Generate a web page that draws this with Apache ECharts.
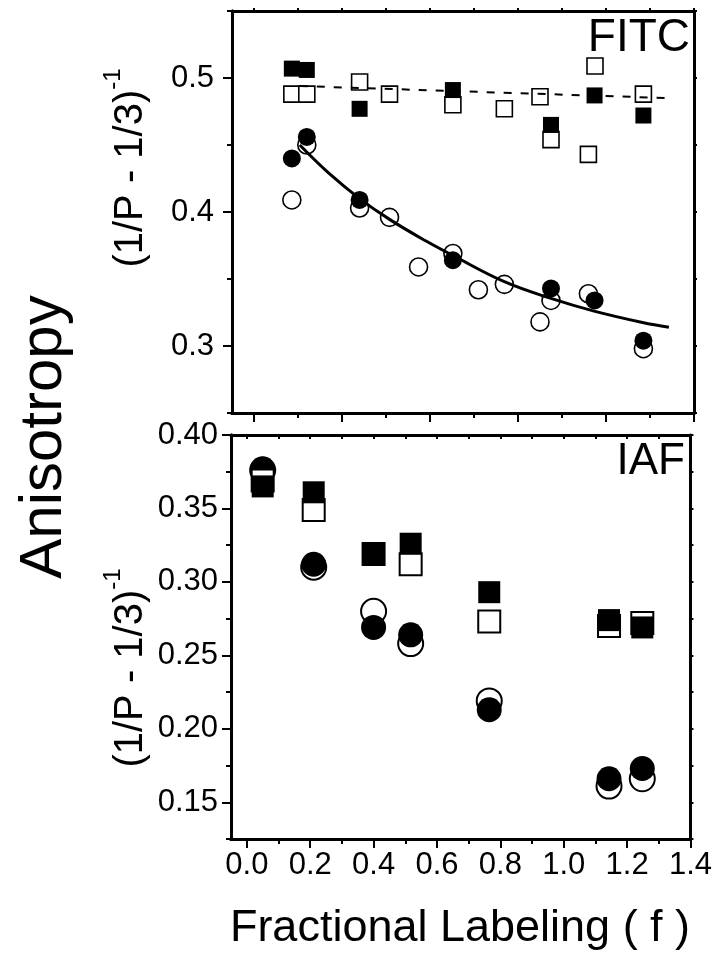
<!DOCTYPE html>
<html><head><meta charset="utf-8">
<script src="https://cdn.jsdelivr.net/npm/echarts@6/dist/echarts.min.js"></script>
<style>html,body{margin:0;padding:0;background:#fff}#c{width:715px;height:960px}</style>
</head><body><div id="c"></div>
<script>
// ---------- FITC (top panel) ----------
const fitcFilledSqX = [0.086, 0.120, 0.240, 0.452, 0.675, 0.774, 0.885];
const fitcFilledSqY = [0.507, 0.506, 0.477, 0.491, 0.465, 0.487, 0.472];
const fitcOpenSqX = [0.086, 0.120, 0.240, 0.308, 0.452, 0.569, 0.650, 0.675, 0.760, 0.775, 0.885];
const fitcOpenSqY = [0.488, 0.488, 0.497, 0.488, 0.480, 0.477, 0.486, 0.454, 0.443, 0.509, 0.488];
const fitcFilledCiX = [0.086, 0.120, 0.240, 0.452, 0.675, 0.774, 0.885];
const fitcFilledCiY = [0.440, 0.456, 0.409, 0.364, 0.343, 0.334, 0.304];
const fitcOpenCiX = [0.086, 0.120, 0.240, 0.308, 0.374, 0.452, 0.510, 0.569, 0.650, 0.675, 0.760, 0.885];
const fitcOpenCiY = [0.409, 0.450, 0.403, 0.396, 0.359, 0.369, 0.342, 0.346, 0.318, 0.334, 0.339, 0.298];
const fitcFitX = [0.104, 0.170, 0.240, 0.308, 0.390, 0.458, 0.569, 0.675, 0.773, 0.883, 0.943];
const fitcFitY = [0.450, 0.429, 0.410, 0.3945, 0.3785, 0.3665, 0.348, 0.3355, 0.326, 0.3175, 0.314];
const fitcDashX = [0.104, 0.943];
const fitcDashY = [0.494, 0.485];

// ---------- IAF (bottom panel) ----------
const iafX = [0.050, 0.211, 0.400, 0.517, 0.765, 1.143, 1.248];
const iafFilledSqY = [0.365, 0.361, 0.319, 0.326, 0.293, 0.274, 0.269];
const iafOpenSqY = [0.369, 0.349, 0.319, 0.312, 0.273, 0.270, 0.272];
const iafFilledCiY = [0.377, 0.312, 0.269, 0.264, 0.213, 0.166, 0.173];
const iafOpenCiY = [0.376, 0.310, 0.280, 0.258, 0.219, 0.161, 0.166];

// ---------- tick positions / labels ----------
const topXMajor = [0, 0.2, 0.4, 0.6, 0.8, 1.0];
const topXMinor = [0.1, 0.3, 0.5, 0.7, 0.9];
const topYMajor = [0.3, 0.4, 0.5];
const topYMinor = [0.25, 0.35, 0.45, 0.55];
const topYAll = [0.25, 0.3, 0.35, 0.4, 0.45, 0.5, 0.55];
const botXMajor = [0, 0.2, 0.4, 0.6, 0.8, 1.0, 1.2, 1.4];
const botXMinor = [0.1, 0.3, 0.5, 0.7, 0.9, 1.1, 1.3];
const botXTop = [0, 0.1, 0.2, 0.3, 0.4, 0.5, 0.6, 0.7, 0.8, 0.9, 1.0, 1.1, 1.2, 1.3];
const botYMajor = [0.15, 0.20, 0.25, 0.30, 0.35, 0.40];
const botYMinor = [0.125, 0.175, 0.225, 0.275, 0.325, 0.375];
const botYAll = [0.125, 0.15, 0.175, 0.2, 0.225, 0.25, 0.275, 0.3, 0.325, 0.35, 0.375, 0.4];

const FONT = '"Liberation Sans", Arial, sans-serif';
const zip = (xs, ys) => xs.map((x, i) => [x, ys[i]]);

function ax(o) {
  const base = {
    type: 'value',
    axisLine: {show: true, onZero: false, lineStyle: {color: '#000', width: 3}},
    splitLine: {show: false},
    axisLabel: {show: false},
    axisTick: {show: false}
  };
  return Object.assign(base, o);
}
function ticks(vals, len, inside, w) {
  return {show: true, customValues: vals, length: len, inside: !!inside, lineStyle: {color: '#000', width: w || 2}};
}

const chart = echarts.init(document.getElementById('c'), null, {renderer: 'canvas'});

const filled = {color: '#000', opacity: 1};
const open = {color: '#fff', borderColor: '#000', borderWidth: 1.6, opacity: 1};

function sc(name, data, xi, yi, symbol, size, style) {
  return {name, type: 'scatter', xAxisIndex: xi, yAxisIndex: yi, data, symbol, symbolSize: size,
    itemStyle: style, emphasis: {disabled: true}, silent: true};
}
const supLabel = {text: '{m|(1/P - 1/3)}{s|-1}', fontFamily: FONT, fill: '#000', align: 'center', verticalAlign: 'middle',
  rich: {m: {fontSize: 40, fontFamily: FONT, lineHeight: 50, verticalAlign: 'bottom'}, s: {fontSize: 24, fontFamily: FONT, verticalAlign: 'top'}}};

chart.setOption({
  animation: false,
  backgroundColor: '#fff',
  grid: [
    {left: 232, top: 11, width: 462, height: 402},
    {left: 231, top: 435, width: 461, height: 404}
  ],
  xAxis: [
    ax({gridIndex: 0, position: 'bottom', min: -0.05, max: 1.0, axisTick: ticks(topXMajor, 9)}),
    ax({gridIndex: 0, position: 'bottom', min: -0.05, max: 1.0, axisTick: ticks(topXMinor, 5)}),
    ax({gridIndex: 0, position: 'top', min: -0.05, max: 1.0, axisTick: ticks(topXMajor.concat(topXMinor), 3)}),
    ax({gridIndex: 1, position: 'bottom', min: -0.05, max: 1.4, axisTick: ticks(botXMajor, 9),
      axisLabel: {show: true, customValues: botXMajor, margin: 11, fontSize: 31, fontFamily: FONT, color: '#000',
        formatter: v => v.toFixed(1)}}),
    ax({gridIndex: 1, position: 'bottom', min: -0.05, max: 1.4, axisTick: ticks(botXMinor, 5)}),
    ax({gridIndex: 1, position: 'top', min: -0.05, max: 1.4, axisTick: ticks(botXTop, 4, true)})
  ],
  yAxis: [
    ax({gridIndex: 0, position: 'left', min: 0.25, max: 0.55, axisTick: ticks(topYMajor, 9),
      axisLabel: {show: true, customValues: topYMajor, margin: 18, fontSize: 31, fontFamily: FONT, color: '#000',
        formatter: v => v.toFixed(1)}}),
    ax({gridIndex: 0, position: 'left', min: 0.25, max: 0.55, axisTick: ticks(topYMinor, 5)}),
    ax({gridIndex: 0, position: 'right', min: 0.25, max: 0.55, axisTick: ticks(topYAll, 3)}),
    ax({gridIndex: 1, position: 'left', min: 0.125, max: 0.40, axisTick: ticks(botYMajor, 9),
      axisLabel: {show: true, customValues: botYMajor, margin: 13, fontSize: 31, fontFamily: FONT, color: '#000',
        formatter: v => v.toFixed(2)}}),
    ax({gridIndex: 1, position: 'left', min: 0.125, max: 0.40, axisTick: ticks(botYMinor, 5)}),
    ax({gridIndex: 1, position: 'right', min: 0.125, max: 0.40, axisTick: ticks(botYAll, 3)})
  ],
  series: [
    sc('FITC open circles', zip(fitcOpenCiX, fitcOpenCiY), 0, 0, 'circle', 18, open),
    sc('FITC filled circles', zip(fitcFilledCiX, fitcFilledCiY), 0, 0, 'circle', 18, filled),
    sc('FITC open squares', zip(fitcOpenSqX, fitcOpenSqY), 0, 0, 'rect', 16, open),
    sc('FITC filled squares', zip(fitcFilledSqX, fitcFilledSqY), 0, 0, 'rect', 16, filled),
    {name: 'FITC fit', type: 'line', xAxisIndex: 0, yAxisIndex: 0, data: zip(fitcFitX, fitcFitY),
      showSymbol: false, smooth: 0.4, lineStyle: {color: '#000', width: 3}, silent: true},
    {name: 'FITC linear', type: 'line', xAxisIndex: 0, yAxisIndex: 0, data: zip(fitcDashX, fitcDashY),
      showSymbol: false, lineStyle: {color: '#000', width: 2, type: [8, 9]}, silent: true},
    sc('IAF open circles', zip(iafX, iafOpenCiY), 3, 3, 'circle', 25, Object.assign({}, open, {borderWidth: 2})),
    sc('IAF filled circles', zip(iafX, iafFilledCiY), 3, 3, 'circle', 25, filled),
    sc('IAF open squares', zip(iafX, iafOpenSqY), 3, 3, 'rect', 22, Object.assign({}, open, {borderWidth: 2})),
    sc('IAF filled squares', zip(iafX, iafFilledSqY), 3, 3, 'rect', 22, filled)
  ],
  graphic: [
    {type: 'text', x: 690, y: 38, style: {text: 'FITC', fontSize: 46, fontFamily: FONT, fill: '#000', align: 'right', verticalAlign: 'middle'}},
    {type: 'text', x: 685, y: 462, style: {text: 'IAF', fontSize: 44, fontFamily: FONT, fill: '#000', align: 'right', verticalAlign: 'middle'}},
    {type: 'text', x: 44, y: 437, rotation: Math.PI / 2, style: {text: 'Anisotropy', fontSize: 60, fontFamily: FONT, fill: '#000', align: 'center', verticalAlign: 'middle'}},
    {type: 'text', x: 126, y: 168, rotation: Math.PI / 2, style: Object.assign({}, supLabel)},
    {type: 'text', x: 126, y: 668, rotation: Math.PI / 2, style: Object.assign({}, supLabel)},
    {type: 'text', x: 460, y: 929, style: {text: 'Fractional Labeling ( f )', fontSize: 45, fontFamily: FONT, fill: '#000', align: 'center', verticalAlign: 'middle'}}
  ]
});
</script>
</body></html>
